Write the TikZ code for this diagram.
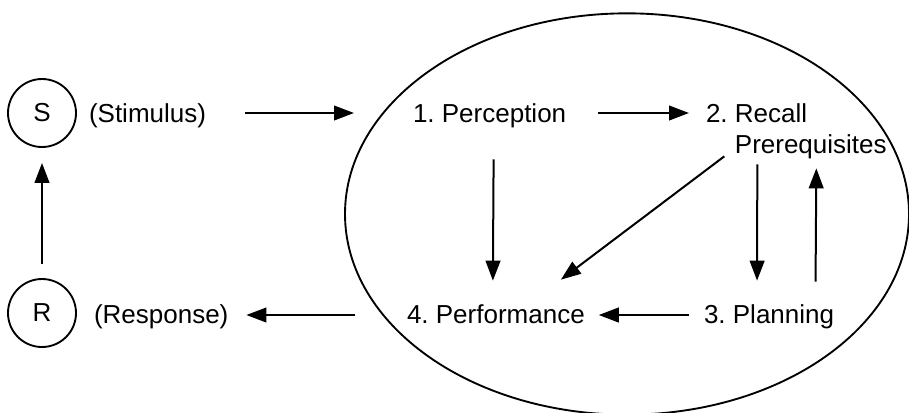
\documentclass[tikz,border=0pt]{standalone}
\usepackage{fontspec}
\setmainfont{Liberation Sans}
\usetikzlibrary{arrows.meta}
\begin{document}
\frenchspacing
\begin{tikzpicture}[x=0.75pt,y=-0.75pt,
  font=\fontsize{19.5pt}{23.25pt}\selectfont,
  line width=1.5pt,
  arr/.style={-{Triangle[length=15pt,width=11pt]}},
  circ/.style={draw,circle,minimum size=51pt,inner sep=0pt,line width=1.4pt},
  lbl/.style={inner sep=0pt,text height=14pt,text depth=0pt,anchor=west}]
\useasboundingbox (0,0) rectangle (909,412);
% the mind
\draw[line width=1.4pt] (627,214) ellipse [x radius=211.5pt, y radius=150.5pt];
% nodes
\node[circ] (S) at (42,113) {S};
\node[circ] (R) at (42,313) {R};
\node[lbl] (stim) at (88,113) {(Stimulus)};
\node[lbl] (resp) at (93,314) {(Response)};
\node[lbl] (perc) at (412,113) {1. Perception};
\node[lbl] (recall) at (705,113) {2. \begin{tabular}[t]{@{}l@{}}Recall\\Prerequisites\end{tabular}};
\node[lbl] (perf) at (406,314) {4. Performance};
\node[lbl] (plan) at (703,314) {3. Planning};
% connectors
\draw[arr,shorten <=10.5pt,shorten >=11.25pt] (R) -- (S);
\draw[arr] ([shift={(38,0)}]stim.east) -- ([shift={(-58,0)}]perc.west);
\draw[arr] ([shift={(-51,1)}]perf.west) -- ([shift={(17,1)}]resp.east);
\draw[arr] ([shift={(31,0)}]perc.east) -- ([shift={(-16,0)}]recall.west);
\draw[arr] ([shift={(4,36)}]perc.south) -- ([shift={(-3,-23)}]perf.north);
\draw[arr] ([shift={(-72,33)}]recall.south) -- ([shift={(65,-24)}]perf.north);
\draw[arr] ([shift={(-39,41)}]recall.south) -- ([shift={(-12,-23)}]plan.north);
\draw[arr] ([shift={(46.5,-22)}]plan.north) -- ([shift={(20,45)}]recall.south);
\draw[arr] ([shift={(-14,1)}]plan.west) -- ([shift={(13,1)}]perf.east);
\end{tikzpicture}
\end{document}
